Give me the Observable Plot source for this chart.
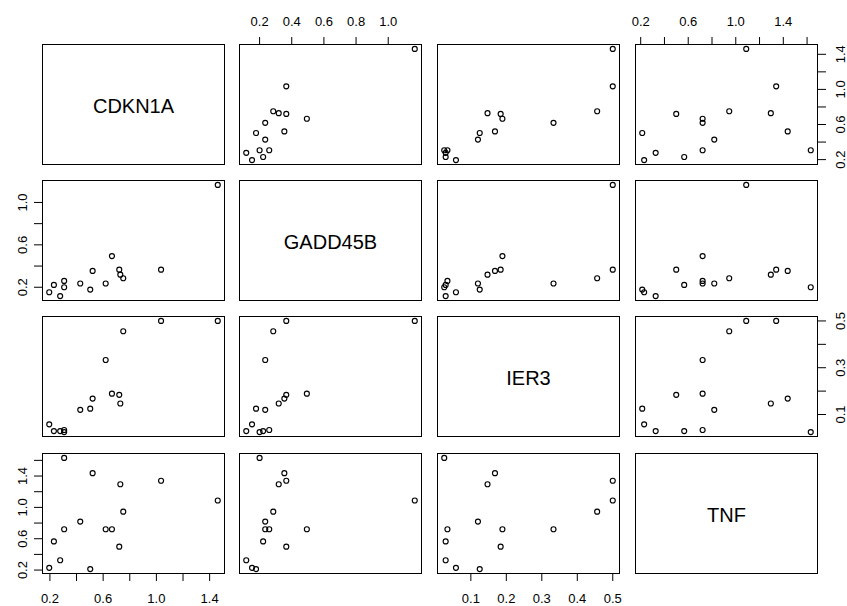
<!DOCTYPE html>
<html><head><meta charset="utf-8">
<script src="https://cdn.jsdelivr.net/npm/d3@7"></script>
<script src="https://cdn.jsdelivr.net/npm/@observablehq/plot@0.6"></script>
<style>
body{margin:0;background:#fff;}
#chart{position:relative;width:847px;height:606px;background:#fff;overflow:hidden;font-family:"Liberation Sans",Arial,sans-serif;color:#000;}
#chart svg{position:absolute;}
</style></head><body><div id="chart"></div>
<script>
// variable names (diagonal labels)
const variables = ["CDKN1A", "GADD45B", "IER3", "TNF"];

// one value per sample
const CDKN1A  = [0.307, 0.521, 0.729, 1.035, 1.461, 0.751, 0.428, 0.307, 0.619, 0.666, 0.230, 0.721, 0.277, 0.195, 0.503];
const GADD45B = [0.200, 0.354, 0.319, 0.366, 1.165, 0.285, 0.235, 0.260, 0.235, 0.494, 0.222, 0.366, 0.117, 0.153, 0.178];
const IER3    = [0.025, 0.168, 0.147, 0.500, 0.500, 0.456, 0.120, 0.034, 0.333, 0.189, 0.029, 0.184, 0.029, 0.058, 0.125];
const TNF     = [1.631, 1.437, 1.295, 1.340, 1.088, 0.945, 0.819, 0.721, 0.721, 0.721, 0.566, 0.499, 0.326, 0.229, 0.213];

// tick positions and which ticks carry labels on each outer side
const cdkn1aTicks  = [0.2, 0.4, 0.6, 0.8, 1.0, 1.2, 1.4];
const gadd45bTicks = [0.2, 0.4, 0.6, 0.8, 1.0];
const ier3Ticks    = [0.1, 0.2, 0.3, 0.4, 0.5];
const tnfTicks     = [0.2, 0.4, 0.6, 0.8, 1.0, 1.2, 1.4, 1.6];

const cdkn1aBottomLabels = [0.2, 0.6, 1.0, 1.4];
const cdkn1aRightLabels  = [0.2, 0.6, 1.0, 1.4];
const gadd45bTopLabels   = [0.2, 0.4, 0.6, 0.8, 1.0];
const gadd45bLeftLabels  = [0.2, 0.6, 1.0];
const ier3BottomLabels   = [0.1, 0.2, 0.3, 0.4, 0.5];
const ier3RightLabels    = [0.1, 0.3, 0.5];
const tnfTopLabels       = [0.2, 0.6, 1.0, 1.4];
const tnfLeftLabels      = [0.2, 0.6, 1.0, 1.4];

// ---- build ----
const columns = [CDKN1A, GADD45B, IER3, TNF];
const ticksFor = [cdkn1aTicks, gadd45bTicks, ier3Ticks, tnfTicks];
const labelsFor = {
  top:    [null, gadd45bTopLabels, null, tnfTopLabels],
  bottom: [cdkn1aBottomLabels, null, ier3BottomLabels, null],
  left:   [null, gadd45bLeftLabels, null, tnfLeftLabels],
  right:  [cdkn1aRightLabels, null, ier3RightLabels, null]
};
const samples = CDKN1A.map((_, k) => ({
  CDKN1A: CDKN1A[k], GADD45B: GADD45B[k], IER3: IER3[k], TNF: TNF[k]
}));

function padded(v) {
  const [a, b] = d3.extent(v);
  const p = (b - a) * 0.04;
  return [a - p, b + p];
}
const fmt = (labels) => (d) => labels.some((l) => Math.abs(l - d) < 1e-9) ? d.toFixed(1) : "";

const panelLeft = [42, 239, 437, 635];
const panelTop = [44, 180, 316, 453];
const PW = 182, PH = 120, M = 40;
const chart = document.getElementById("chart");

for (let i = 0; i < 4; i++) {
  for (let j = 0; j < 4; j++) {
    const marks = [];
    if (i === j) {
      marks.push(Plot.text([variables[i]], {frameAnchor: "middle", text: (d) => d, fontSize: 20, dy: 2}));
    } else {
      marks.push(Plot.dot(samples, {x: variables[j], y: variables[i], r: 2.5, stroke: "black", strokeWidth: 1.15, fill: "none"}));
    }
    if (i === 0 && labelsFor.top[j]) {
      marks.push(Plot.axisX({anchor: "top", label: null, ticks: ticksFor[j], tickSize: 8, tickPadding: 15, lineAnchor: "middle", tickFormat: fmt(labelsFor.top[j])}));
    }
    if (i === 3 && labelsFor.bottom[j]) {
      marks.push(Plot.axisX({anchor: "bottom", label: null, ticks: ticksFor[j], tickSize: 8, tickPadding: 17.5, lineAnchor: "middle", tickFormat: fmt(labelsFor.bottom[j])}));
    }
    if (j === 0 && labelsFor.left[i]) {
      marks.push(Plot.axisY({anchor: "left", label: null, ticks: ticksFor[i], tickSize: 8, tickPadding: 12, tickRotate: -90, textAnchor: "middle", lineAnchor: "middle", tickFormat: fmt(labelsFor.left[i])}));
    }
    if (j === 3 && labelsFor.right[i]) {
      marks.push(Plot.axisY({anchor: "right", label: null, ticks: ticksFor[i], tickSize: 8, tickPadding: 15, tickRotate: -90, textAnchor: "middle", lineAnchor: "middle", tickFormat: fmt(labelsFor.right[i])}));
    }
    marks.push(Plot.frame({stroke: "black", strokeWidth: 1}));
    const svg = Plot.plot({
      width: PW + 2 * M,
      height: PH + 2 * M,
      margin: M,
      x: {domain: padded(columns[j]), axis: null},
      y: {domain: padded(columns[i]), axis: null},
      style: {background: "transparent", fontSize: "13px", fontFamily: '"Liberation Sans", Arial, sans-serif', overflow: "visible"},
      marks
    });
    svg.style.left = (panelLeft[j] - M) + "px";
    svg.style.top = (panelTop[i] - M) + "px";
    chart.appendChild(svg);
  }
}
</script></body></html>
